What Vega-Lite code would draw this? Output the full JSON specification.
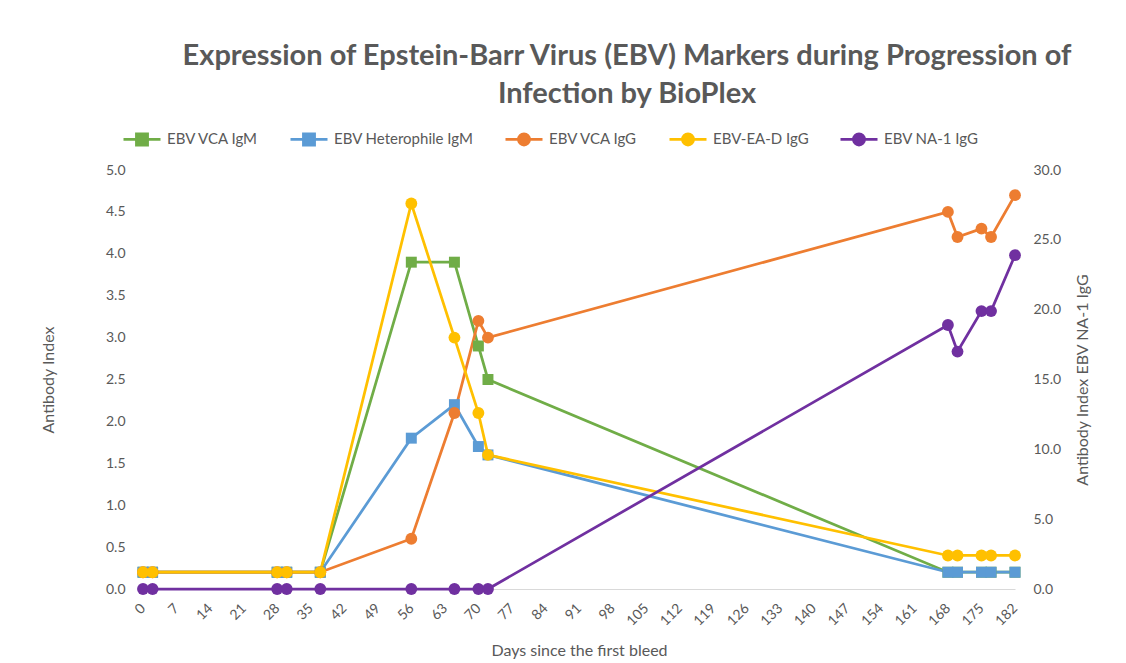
{
  "$schema": "https://vega.github.io/schema/vega-lite/v6.json",
  "width": 872,
  "height": 419,
  "autosize": {"type": "none"},
  "padding": {"left": 143, "top": 170, "right": 111, "bottom": 74},
  "background": "white",
  "config": {"view": {"stroke": null}, "font": "Lato"},
  "title": {
    "text": ["Expression of Epstein-Barr Virus (EBV) Markers during Progression of", "Infection by BioPlex"],
    "font": "Lato",
    "fontSize": 29,
    "fontWeight": "bold",
    "color": "#595959",
    "lineHeight": 38,
    "anchor": "middle",
    "dx": 48,
    "offset": 10
  },
  "data": {
    "values": [
      {"series": "EBV VCA IgM", "day": 0, "value": 0.2},
      {"series": "EBV VCA IgM", "day": 2, "value": 0.2},
      {"series": "EBV VCA IgM", "day": 28, "value": 0.2},
      {"series": "EBV VCA IgM", "day": 30, "value": 0.2},
      {"series": "EBV VCA IgM", "day": 37, "value": 0.2},
      {"series": "EBV VCA IgM", "day": 56, "value": 3.9},
      {"series": "EBV VCA IgM", "day": 65, "value": 3.9},
      {"series": "EBV VCA IgM", "day": 70, "value": 2.9},
      {"series": "EBV VCA IgM", "day": 72, "value": 2.5},
      {"series": "EBV VCA IgM", "day": 168, "value": 0.2},
      {"series": "EBV VCA IgM", "day": 170, "value": 0.2},
      {"series": "EBV VCA IgM", "day": 175, "value": 0.2},
      {"series": "EBV VCA IgM", "day": 177, "value": 0.2},
      {"series": "EBV VCA IgM", "day": 182, "value": 0.2},
      {"series": "EBV Heterophile IgM", "day": 0, "value": 0.2},
      {"series": "EBV Heterophile IgM", "day": 2, "value": 0.2},
      {"series": "EBV Heterophile IgM", "day": 28, "value": 0.2},
      {"series": "EBV Heterophile IgM", "day": 30, "value": 0.2},
      {"series": "EBV Heterophile IgM", "day": 37, "value": 0.2},
      {"series": "EBV Heterophile IgM", "day": 56, "value": 1.8},
      {"series": "EBV Heterophile IgM", "day": 65, "value": 2.2},
      {"series": "EBV Heterophile IgM", "day": 70, "value": 1.7},
      {"series": "EBV Heterophile IgM", "day": 72, "value": 1.6},
      {"series": "EBV Heterophile IgM", "day": 168, "value": 0.2},
      {"series": "EBV Heterophile IgM", "day": 170, "value": 0.2},
      {"series": "EBV Heterophile IgM", "day": 175, "value": 0.2},
      {"series": "EBV Heterophile IgM", "day": 177, "value": 0.2},
      {"series": "EBV Heterophile IgM", "day": 182, "value": 0.2},
      {"series": "EBV VCA IgG", "day": 0, "value": 0.2},
      {"series": "EBV VCA IgG", "day": 2, "value": 0.2},
      {"series": "EBV VCA IgG", "day": 28, "value": 0.2},
      {"series": "EBV VCA IgG", "day": 30, "value": 0.2},
      {"series": "EBV VCA IgG", "day": 37, "value": 0.2},
      {"series": "EBV VCA IgG", "day": 56, "value": 0.6},
      {"series": "EBV VCA IgG", "day": 65, "value": 2.1},
      {"series": "EBV VCA IgG", "day": 70, "value": 3.2},
      {"series": "EBV VCA IgG", "day": 72, "value": 3.0},
      {"series": "EBV VCA IgG", "day": 168, "value": 4.5},
      {"series": "EBV VCA IgG", "day": 170, "value": 4.2},
      {"series": "EBV VCA IgG", "day": 175, "value": 4.3},
      {"series": "EBV VCA IgG", "day": 177, "value": 4.2},
      {"series": "EBV VCA IgG", "day": 182, "value": 4.7},
      {"series": "EBV-EA-D IgG", "day": 0, "value": 0.2},
      {"series": "EBV-EA-D IgG", "day": 2, "value": 0.2},
      {"series": "EBV-EA-D IgG", "day": 28, "value": 0.2},
      {"series": "EBV-EA-D IgG", "day": 30, "value": 0.2},
      {"series": "EBV-EA-D IgG", "day": 37, "value": 0.2},
      {"series": "EBV-EA-D IgG", "day": 56, "value": 4.6},
      {"series": "EBV-EA-D IgG", "day": 65, "value": 3.0},
      {"series": "EBV-EA-D IgG", "day": 70, "value": 2.1},
      {"series": "EBV-EA-D IgG", "day": 72, "value": 1.6},
      {"series": "EBV-EA-D IgG", "day": 168, "value": 0.4},
      {"series": "EBV-EA-D IgG", "day": 170, "value": 0.4},
      {"series": "EBV-EA-D IgG", "day": 175, "value": 0.4},
      {"series": "EBV-EA-D IgG", "day": 177, "value": 0.4},
      {"series": "EBV-EA-D IgG", "day": 182, "value": 0.4},
      {"series": "EBV NA-1 IgG", "day": 0, "value": 0},
      {"series": "EBV NA-1 IgG", "day": 2, "value": 0},
      {"series": "EBV NA-1 IgG", "day": 28, "value": 0},
      {"series": "EBV NA-1 IgG", "day": 30, "value": 0},
      {"series": "EBV NA-1 IgG", "day": 37, "value": 0},
      {"series": "EBV NA-1 IgG", "day": 56, "value": 0},
      {"series": "EBV NA-1 IgG", "day": 65, "value": 0},
      {"series": "EBV NA-1 IgG", "day": 70, "value": 0},
      {"series": "EBV NA-1 IgG", "day": 72, "value": 0},
      {"series": "EBV NA-1 IgG", "day": 168, "value": 18.9},
      {"series": "EBV NA-1 IgG", "day": 170, "value": 17.0},
      {"series": "EBV NA-1 IgG", "day": 175, "value": 19.9},
      {"series": "EBV NA-1 IgG", "day": 177, "value": 19.9},
      {"series": "EBV NA-1 IgG", "day": 182, "value": 23.9}
    ]
  },
  "encoding": {
    "x": {
      "field": "day",
      "type": "quantitative",
      "scale": {"domain": [0, 182], "nice": false, "zero": true},
      "axis": {
        "values": [0, 7, 14, 21, 28, 35, 42, 49, 56, 63, 70, 77, 84, 91, 98, 105, 112, 119, 126, 133, 140, 147, 154, 161, 168, 175, 182],
        "labelAngle": -45,
        "labelAlign": "right",
        "labelBaseline": "middle",
        "labelPadding": 17,
        "labelFont": "Lato",
        "labelFontSize": 14,
        "labelColor": "#595959",
        "labelFlush": false,
        "labelOverlap": false,
        "ticks": false,
        "grid": false,
        "domainColor": "#D9D9D9",
        "domainWidth": 1,
        "title": "Days since the first bleed",
        "titleFont": "Lato",
        "titleFontSize": 16,
        "titleFontWeight": "normal",
        "titleColor": "#595959",
        "titlePadding": 14
      }
    },
    "color": {
      "field": "series",
      "type": "nominal",
      "scale": {
        "domain": ["EBV VCA IgM", "EBV Heterophile IgM", "EBV VCA IgG", "EBV-EA-D IgG", "EBV NA-1 IgG"],
        "range": ["#70AD47", "#5B9BD5", "#ED7D31", "#FFC000", "#7030A0"]
      },
      "legend": {
        "orient": "none",
        "legendX": -21,
        "legendY": -51,
        "direction": "horizontal",
        "title": null,
        "symbolSize": 1369,
        "labelFont": "Lato",
        "labelFontSize": 15,
        "labelColor": "#595959",
        "labelOffset": 5,
        "columnPadding": 26,
        "encode": {
          "symbols": {
            "update": {
              "shape": {"signal": "indexof(['EBV VCA IgM','EBV Heterophile IgM'], datum.value) >= 0 ? 'M-1,0H-0.3M0.3,0H1M-0.3,-0.3H0.3V0.3H-0.3Z' : 'M-1,0H-0.3M0.3,0H1M0.3,0A0.3,0.3 0 1 1 -0.3,0A0.3,0.3 0 1 1 0.3,0Z'"},
              "strokeWidth": {"value": 2.75}
            }
          }
        }
      }
    }
  },
  "layer": [
    {
      "transform": [{"filter": "datum.series !== 'EBV NA-1 IgG'"}],
      "encoding": {
        "y": {
          "field": "value",
          "type": "quantitative",
          "scale": {"domain": [0, 5], "nice": false},
          "axis": {
            "orient": "left",
            "values": [0, 0.5, 1, 1.5, 2, 2.5, 3, 3.5, 4, 4.5, 5],
            "format": ".1f",
            "labelPadding": 18,
            "labelFont": "Lato",
            "labelFontSize": 14,
            "labelColor": "#595959",
            "ticks": false,
            "domain": false,
            "grid": false,
            "title": "Antibody Index",
            "titleFont": "Lato",
            "titleFontSize": 16,
            "titleFontWeight": "normal",
            "titleColor": "#595959",
            "titlePadding": 49
          }
        }
      },
      "layer": [
        {"mark": {"type": "line", "strokeWidth": 2.75}},
        {
          "transform": [{"filter": "datum.series === 'EBV VCA IgM' || datum.series === 'EBV Heterophile IgM'"}],
          "mark": {"type": "point", "shape": "square", "filled": true, "opacity": 1, "size": 120}
        },
        {
          "transform": [{"filter": "datum.series === 'EBV VCA IgG' || datum.series === 'EBV-EA-D IgG'"}],
          "mark": {"type": "point", "shape": "circle", "filled": true, "opacity": 1, "size": 140}
        }
      ]
    },
    {
      "transform": [{"filter": "datum.series === 'EBV NA-1 IgG'"}],
      "encoding": {
        "y": {
          "field": "value",
          "type": "quantitative",
          "scale": {"domain": [0, 30], "nice": false},
          "axis": {
            "orient": "right",
            "values": [0, 5, 10, 15, 20, 25, 30],
            "format": ".1f",
            "labelPadding": 18,
            "labelFont": "Lato",
            "labelFontSize": 14,
            "labelColor": "#595959",
            "ticks": false,
            "domain": false,
            "grid": false,
            "title": "Antibody Index EBV NA-1 IgG",
            "titleFont": "Lato",
            "titleFontSize": 16,
            "titleFontWeight": "normal",
            "titleColor": "#595959",
            "titleAngle": 270,
            "titleBaseline": "top",
            "titlePadding": 14
          }
        }
      },
      "layer": [
        {"mark": {"type": "line", "strokeWidth": 2.75}},
        {"mark": {"type": "point", "shape": "circle", "filled": true, "opacity": 1, "size": 140}}
      ]
    }
  ],
  "resolve": {"scale": {"y": "independent"}}
}
